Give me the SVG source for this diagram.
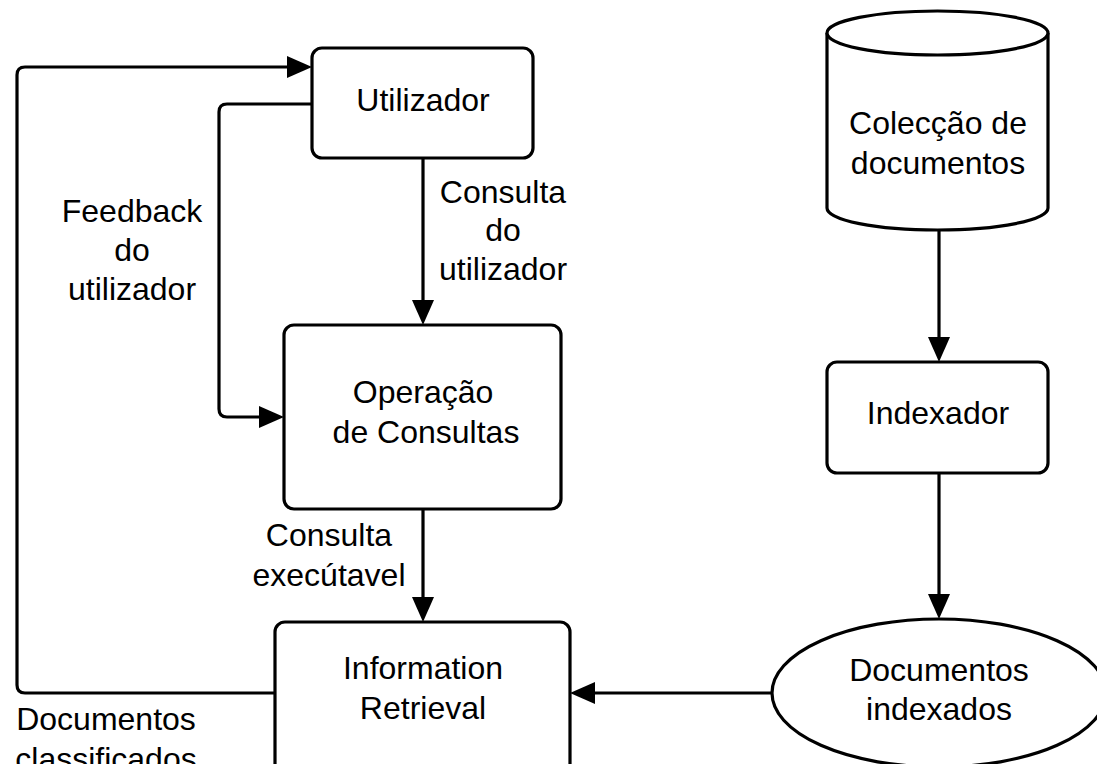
<svg xmlns="http://www.w3.org/2000/svg" width="1097" height="764" viewBox="0 0 1097 764">
  <style>
    .shape { fill: #ffffff; stroke: #000000; stroke-width: 3.2; }
    .edge { fill: none; stroke: #000000; stroke-width: 3.2; marker-end: url(#arrow); }
    text { font-family: "Liberation Sans", Arial, sans-serif; font-size: 32px; fill: #000000; text-anchor: middle; }
  </style>
  <defs>
    <marker id="arrow" viewBox="0 0 25 22" refX="15" refY="11" markerWidth="25" markerHeight="22" markerUnits="userSpaceOnUse" orient="auto">
      <path d="M0,0 L25,11 L0,22 Z" fill="#000000"/>
    </marker>
  </defs>
  <rect width="1097" height="764" fill="#ffffff"/>

  <!-- connectors -->
  <g id="connectors">
    <path class="edge" d="M275,693 H25 Q17,693 17,685 V75 Q17,67 25,67 H302"/>
    <path class="edge" d="M312,104 H227 Q219,104 219,112 V409 Q219,417 227,417 H274"/>
    <path class="edge" d="M423,158 V315"/>
    <path class="edge" d="M423,509 V612"/>
    <path class="edge" d="M939,230 V352"/>
    <path class="edge" d="M939,473 V609"/>
    <path class="edge" d="M772,693 H580"/>
    <text x="132" y="222">Feedback</text>
    <text x="132" y="261">do</text>
    <text x="132" y="300">utilizador</text>
    <text x="503" y="203">Consulta</text>
    <text x="503" y="241">do</text>
    <text x="503" y="280">utilizador</text>
    <text x="329" y="546">Consulta</text>
    <text x="329" y="586">execútavel</text>
    <text x="106" y="730">Documentos</text>
    <text x="106" y="770">classificados</text>
  </g>

  <g id="utilizador">
    <rect class="shape" x="312" y="48" width="221" height="110" rx="10"/>
    <text x="423" y="111">Utilizador</text>
  </g>

  <g id="operacao">
    <rect class="shape" x="284" y="325" width="277" height="184" rx="10"/>
    <text x="423" y="403">Operação</text>
    <text x="426" y="443">de Consultas</text>
  </g>

  <g id="information-retrieval">
    <rect class="shape" x="275" y="622" width="295" height="160" rx="10"/>
    <text x="423" y="679">Information</text>
    <text x="423" y="719">Retrieval</text>
  </g>

  <g id="coleccao">
    <path class="shape" d="M827,33 V208 A110.5,22 0 0 0 1048,208 V33 A110.5,22 0 0 0 827,33 Z"/>
    <path class="shape" d="M827,33 A110.5,22 0 0 0 1048,33" fill="none"/>
    <text x="938" y="134">Colecção de</text>
    <text x="938" y="174">documentos</text>
  </g>

  <g id="indexador">
    <rect class="shape" x="827" y="362" width="221" height="111" rx="10"/>
    <text x="938" y="424">Indexador</text>
  </g>

  <g id="documentos-indexados">
    <ellipse class="shape" cx="939" cy="693" rx="167" ry="74"/>
    <text x="939" y="681">Documentos</text>
    <text x="939" y="720">indexados</text>
  </g>
</svg>
